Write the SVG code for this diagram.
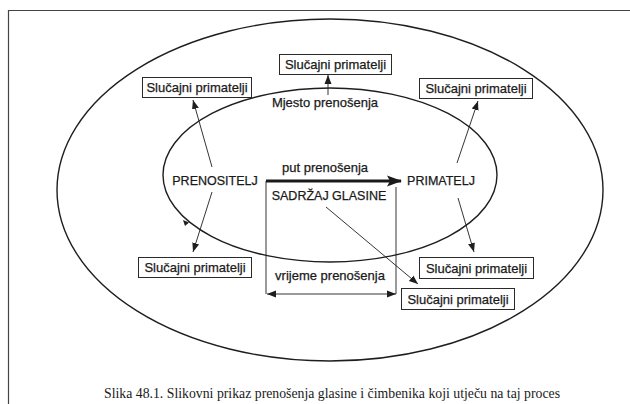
<svg xmlns="http://www.w3.org/2000/svg" width="630" height="404" viewBox="0 0 630 404">
<style>
.bg{fill:#ffffff}
.frame{fill:none;stroke:#444;stroke-width:1.2}
.ell{fill:none;stroke:#1e1e1e;stroke-width:1.4}
.box{fill:#ffffff;stroke:#2a2a2a;stroke-width:1}
.t{font-family:"Liberation Sans",Arial,sans-serif;font-size:13px;fill:#1a1a1a;stroke:#1a1a1a;stroke-width:0.25;text-anchor:middle}
.caps{font-size:12.5px}
.cap{font-family:"Liberation Serif","Times New Roman",serif;font-size:15.5px;fill:#1a1a1a;text-anchor:middle}
.ln{fill:none;stroke:#1e1e1e;stroke-width:0.9}
.thick{fill:none;stroke:#1a1a1a;stroke-width:3.2}
</style>
<defs>
<marker id="ah" markerUnits="userSpaceOnUse" markerWidth="10" markerHeight="10" viewBox="0 0 10 10" refX="9" refY="5" orient="auto">
<path d="M0,1.5 L9,5 L0,8.5 Z" fill="#1e1e1e"/>
</marker>
<marker id="ahs" markerUnits="userSpaceOnUse" markerWidth="10" markerHeight="10" viewBox="0 0 10 10" refX="1" refY="5" orient="auto">
<path d="M10,1.5 L1,5 L10,8.5 Z" fill="#1e1e1e"/>
</marker>
<marker id="big" markerUnits="userSpaceOnUse" markerWidth="16" markerHeight="14" viewBox="0 0 16 14" refX="14" refY="7" orient="auto">
<path d="M0,1.5 L15,7 L0,12.5 L3,7 Z" fill="#1a1a1a"/>
</marker>
</defs>
<rect class="bg" x="0" y="0" width="630" height="404"/>
<g id="frame">
<path class="frame" d="M8.5,404 L8.5,10.5 L630,10.5"/>
</g>
<g id="outer-ellipse"><ellipse class="ell" cx="330" cy="190" rx="273" ry="171"/></g>
<g id="inner-ellipse"><ellipse class="ell" cx="330" cy="175" rx="167" ry="87"/>
<path d="M183,220 L189,222.5 L185,226 Z" fill="#1e1e1e"/></g>
<g id="connectors">
<line class="thick" x1="266" y1="181" x2="401" y2="181" marker-end="url(#big)"/>
<line class="ln" x1="266" y1="181" x2="266" y2="294"/>
<line class="ln" x1="396" y1="187" x2="396" y2="294"/>
<line class="ln" x1="267" y1="294" x2="396" y2="294" marker-start="url(#ahs)" marker-end="url(#ah)"/>
<line class="ln" x1="212" y1="167" x2="193" y2="100" marker-end="url(#ah)"/>
<line class="ln" x1="212" y1="192" x2="193" y2="252" marker-end="url(#ah)"/>
<line class="ln" x1="457" y1="163" x2="478" y2="101" marker-end="url(#ah)"/>
<line class="ln" x1="458" y1="198" x2="474" y2="252" marker-end="url(#ah)"/>
<line class="ln" x1="328" y1="95" x2="328" y2="75" marker-end="url(#ah)"/>
<line class="ln" x1="326" y1="207" x2="418" y2="284" marker-end="url(#ah)"/>
</g>
<g id="box-top"><rect class="box" x="279.5" y="54.5" width="112" height="20"/><text class="t" x="335.5" y="69">Slučajni primatelji</text></g>
<g id="box-top-left"><rect class="box" x="142.5" y="77.5" width="109" height="20"/><text class="t" x="197" y="92">Slučajni primatelji</text></g>
<g id="box-top-right"><rect class="box" x="419.5" y="78.5" width="113" height="20"/><text class="t" x="476" y="93">Slučajni primatelji</text></g>
<g id="box-bottom-left"><rect class="box" x="138.5" y="257.5" width="113" height="20"/><text class="t" x="195" y="272">Slučajni primatelji</text></g>
<g id="box-bottom-right"><rect class="box" x="419.5" y="257.5" width="114" height="21"/><text class="t" x="476.5" y="273">Slučajni primatelji</text></g>
<g id="box-bottom-center"><rect class="box" x="401.5" y="288.5" width="113" height="21"/><text class="t" x="458" y="304">Slučajni primatelji</text></g>
<g id="label-mjesto"><text class="t" x="325" y="107">Mjesto prenošenja</text></g>
<g id="node-prenositelj"><text class="t caps" x="215" y="185">PRENOSITELJ</text></g>
<g id="node-primatelj"><text class="t caps" x="441" y="185">PRIMATELJ</text></g>
<g id="label-put"><text class="t" x="325" y="172">put prenošenja</text></g>
<g id="label-sadrzaj"><text class="t caps" x="329" y="200">SADRŽAJ GLASINE</text></g>
<g id="label-vrijeme"><text class="t" x="330" y="280">vrijeme prenošenja</text></g>
<g id="caption"><text class="cap" x="332" y="398" textLength="456" lengthAdjust="spacingAndGlyphs">Slika 48.1. Slikovni prikaz prenošenja glasine i čimbenika koji utječu na taj proces</text></g>
</svg>
